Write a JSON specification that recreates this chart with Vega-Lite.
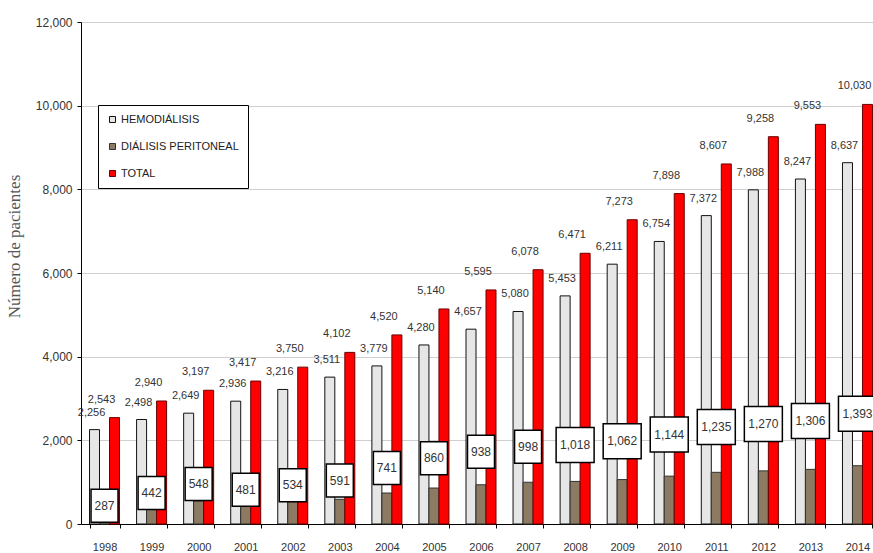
{
  "$schema": "https://vega.github.io/schema/vega-lite/v6.json",
  "autosize": "none",
  "width": 800,
  "height": 502,
  "padding": {"left": 81, "top": 22, "right": 0, "bottom": 29},
  "background": "white",
  "config": {"view": {"stroke": null}, "font": "Liberation Sans"},
  "data": {"values": [
    {"year": "1998", "serie": "HEMODIÁLISIS", "value": 2256},
    {"year": "1998", "serie": "DIÁLISIS PERITONEAL", "value": 287},
    {"year": "1998", "serie": "TOTAL", "value": 2543},
    {"year": "1999", "serie": "HEMODIÁLISIS", "value": 2498},
    {"year": "1999", "serie": "DIÁLISIS PERITONEAL", "value": 442},
    {"year": "1999", "serie": "TOTAL", "value": 2940},
    {"year": "2000", "serie": "HEMODIÁLISIS", "value": 2649},
    {"year": "2000", "serie": "DIÁLISIS PERITONEAL", "value": 548},
    {"year": "2000", "serie": "TOTAL", "value": 3197},
    {"year": "2001", "serie": "HEMODIÁLISIS", "value": 2936},
    {"year": "2001", "serie": "DIÁLISIS PERITONEAL", "value": 481},
    {"year": "2001", "serie": "TOTAL", "value": 3417},
    {"year": "2002", "serie": "HEMODIÁLISIS", "value": 3216},
    {"year": "2002", "serie": "DIÁLISIS PERITONEAL", "value": 534},
    {"year": "2002", "serie": "TOTAL", "value": 3750},
    {"year": "2003", "serie": "HEMODIÁLISIS", "value": 3511},
    {"year": "2003", "serie": "DIÁLISIS PERITONEAL", "value": 591},
    {"year": "2003", "serie": "TOTAL", "value": 4102},
    {"year": "2004", "serie": "HEMODIÁLISIS", "value": 3779},
    {"year": "2004", "serie": "DIÁLISIS PERITONEAL", "value": 741},
    {"year": "2004", "serie": "TOTAL", "value": 4520},
    {"year": "2005", "serie": "HEMODIÁLISIS", "value": 4280},
    {"year": "2005", "serie": "DIÁLISIS PERITONEAL", "value": 860},
    {"year": "2005", "serie": "TOTAL", "value": 5140},
    {"year": "2006", "serie": "HEMODIÁLISIS", "value": 4657},
    {"year": "2006", "serie": "DIÁLISIS PERITONEAL", "value": 938},
    {"year": "2006", "serie": "TOTAL", "value": 5595},
    {"year": "2007", "serie": "HEMODIÁLISIS", "value": 5080},
    {"year": "2007", "serie": "DIÁLISIS PERITONEAL", "value": 998},
    {"year": "2007", "serie": "TOTAL", "value": 6078},
    {"year": "2008", "serie": "HEMODIÁLISIS", "value": 5453},
    {"year": "2008", "serie": "DIÁLISIS PERITONEAL", "value": 1018},
    {"year": "2008", "serie": "TOTAL", "value": 6471},
    {"year": "2009", "serie": "HEMODIÁLISIS", "value": 6211},
    {"year": "2009", "serie": "DIÁLISIS PERITONEAL", "value": 1062},
    {"year": "2009", "serie": "TOTAL", "value": 7273},
    {"year": "2010", "serie": "HEMODIÁLISIS", "value": 6754},
    {"year": "2010", "serie": "DIÁLISIS PERITONEAL", "value": 1144},
    {"year": "2010", "serie": "TOTAL", "value": 7898},
    {"year": "2011", "serie": "HEMODIÁLISIS", "value": 7372},
    {"year": "2011", "serie": "DIÁLISIS PERITONEAL", "value": 1235},
    {"year": "2011", "serie": "TOTAL", "value": 8607},
    {"year": "2012", "serie": "HEMODIÁLISIS", "value": 7988},
    {"year": "2012", "serie": "DIÁLISIS PERITONEAL", "value": 1270},
    {"year": "2012", "serie": "TOTAL", "value": 9258},
    {"year": "2013", "serie": "HEMODIÁLISIS", "value": 8247},
    {"year": "2013", "serie": "DIÁLISIS PERITONEAL", "value": 1306},
    {"year": "2013", "serie": "TOTAL", "value": 9553},
    {"year": "2014", "serie": "HEMODIÁLISIS", "value": 8637},
    {"year": "2014", "serie": "DIÁLISIS PERITONEAL", "value": 1393},
    {"year": "2014", "serie": "TOTAL", "value": 10030}
  ]},
  "layer": [
    {
      "encoding": {
        "x": {
          "field": "year", "type": "ordinal",
          "scale": {"paddingInner": 0.3625, "paddingOuter": 0.18125},
          "axis": {
            "title": null, "labelAngle": 0, "labelFontSize": 11, "labelColor": "#333",
            "labelPadding": 13, "tickBand": "extent", "tickSize": 4, "tickColor": "#000",
            "domainColor": "#000", "grid": false
          }
        },
        "y": {
          "field": "value", "type": "quantitative",
          "scale": {"domain": [0, 12000], "nice": false},
          "axis": {
            "values": [0, 2000, 4000, 6000, 8000, 10000, 12000], "format": ",.0f",
            "title": "Número de pacientes", "titleFont": "Liberation Serif", "titleFontSize": 17,
            "titleFontWeight": "normal", "titleColor": "#555", "titlePadding": 12, "titleY": 224,
            "labelFontSize": 12, "labelColor": "#333", "labelPadding": 5,
            "tickSize": 4, "tickColor": "#000", "domainColor": "#000",
            "gridColor": "#cfcfcf", "gridWidth": 1
          }
        }
      },
      "layer": [
        {
          "mark": {"type": "bar", "strokeWidth": 1},
          "encoding": {
            "xOffset": {"field": "serie", "sort": ["HEMODIÁLISIS", "DIÁLISIS PERITONEAL", "TOTAL"], "scale": {"paddingInner": 0, "paddingOuter": 0}},
            "color": {
              "field": "serie", "type": "nominal",
              "sort": ["HEMODIÁLISIS", "DIÁLISIS PERITONEAL", "TOTAL"],
              "scale": {"domain": ["HEMODIÁLISIS", "DIÁLISIS PERITONEAL", "TOTAL"], "range": ["#e6e6e6", "#8c7a62", "#ff0000"]},
              "legend": {
                "title": null, "orient": "none", "legendX": 17, "legendY": 83,
                "strokeColor": "#000", "fillColor": "#fff", "padding": 9,
                "labelFontSize": 11, "labelColor": "#222", "labelOffset": 3,
                "symbolType": "square", "symbolSize": 36, "symbolStrokeColor": "#333", "symbolStrokeWidth": 1,
                "rowPadding": 15
              }
            },
            "stroke": {
              "field": "serie", "type": "nominal",
              "scale": {"domain": ["HEMODIÁLISIS", "DIÁLISIS PERITONEAL", "TOTAL"], "range": ["#111111", "#333333", "#6a0000"]},
              "legend": null
            }
          }
        },
        {
          "transform": [{"filter": "datum.serie === 'HEMODIÁLISIS'"}],
          "mark": {"type": "text", "fontSize": 11, "color": "#333", "baseline": "middle", "dy": -17, "dx": -3},
          "encoding": {
            "xOffset": {"field": "serie", "sort": ["HEMODIÁLISIS", "DIÁLISIS PERITONEAL", "TOTAL"], "scale": {"paddingInner": 0, "paddingOuter": 0}},
            "text": {"field": "value", "type": "quantitative", "format": ","}
          }
        },
        {
          "transform": [{"filter": "datum.serie === 'TOTAL'"}],
          "mark": {"type": "text", "fontSize": 11, "color": "#333", "baseline": "middle", "dy": -18, "dx": -3},
          "encoding": {
            "text": {"field": "value", "type": "quantitative", "format": ","}
          }
        }
      ]
    },
    {
      "transform": [{"filter": "datum.serie === 'DIÁLISIS PERITONEAL'"}],
      "encoding": {
        "x": {"field": "year", "type": "ordinal"},
        "y": {"field": "value", "type": "quantitative", "scale": {"domain": [68, 6107], "nice": false, "zero": false}, "axis": null}
      },
      "layer": [
        {
          "transform": [{"filter": "datum.value < 1000"}],
          "mark": {"type": "point", "shape": "M-1.35,-1.65H1.35V1.65H-1.35Z", "size": 400, "filled": true, "fill": "#fff", "stroke": "#000", "strokeWidth": 1.5, "opacity": 1}
        },
        {
          "transform": [{"filter": "datum.value >= 1000"}],
          "mark": {"type": "point", "shape": "M-1.9,-1.75H1.9V1.75H-1.9Z", "size": 400, "filled": true, "fill": "#fff", "stroke": "#000", "strokeWidth": 1.5, "opacity": 1}
        },
        {
          "mark": {"type": "text", "fontSize": 12, "color": "#333", "baseline": "middle"},
          "encoding": {"text": {"field": "value", "type": "quantitative", "format": ","}}
        }
      ]
    }
  ],
  "resolve": {"scale": {"y": "independent"}}
}
